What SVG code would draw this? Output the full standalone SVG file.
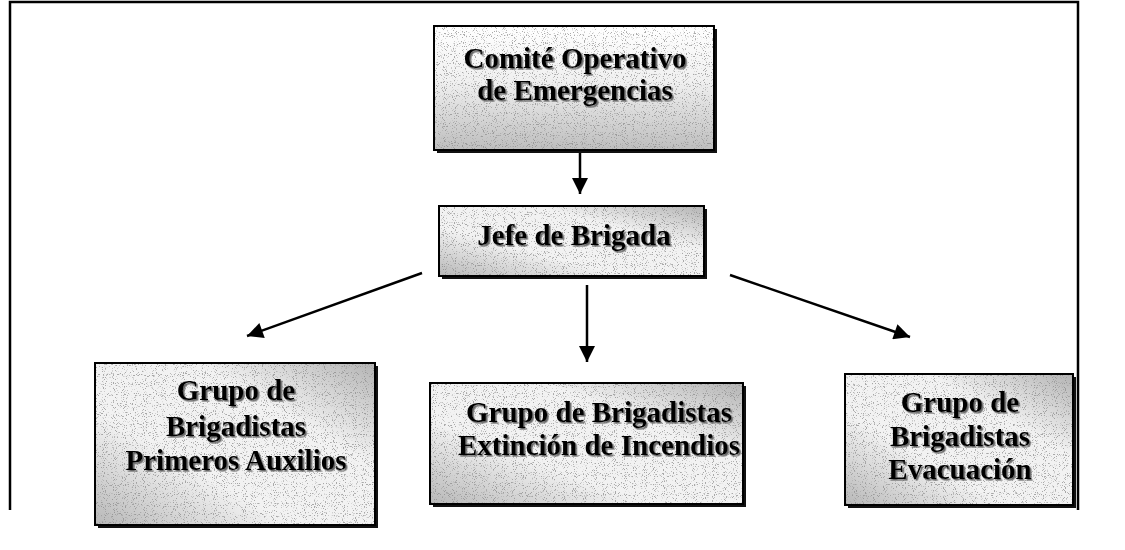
<svg xmlns="http://www.w3.org/2000/svg" width="1125" height="550" viewBox="0 0 1125 550">
<defs>
<style>
.frame{stroke:#000;stroke-width:2.5;fill:none}
.shadow{fill:#111}
.box{stroke:#000;stroke-width:2}
.grain{fill:#fff;filter:url(#grain)}
.lbl{font-family:"Liberation Serif","Times New Roman",serif;font-weight:bold;font-size:29px;fill:#000;text-anchor:middle;filter:url(#tshadow)}
.conn{stroke:#000;stroke-width:2.5;fill:none;marker-end:url(#ah)}
</style>
<linearGradient id="gDiag" x1="0" y1="1" x2="1" y2="0">
<stop offset="0" stop-color="#b8b8b8"/>
<stop offset="0.35" stop-color="#f2f2f2"/>
<stop offset="0.68" stop-color="#f2f2f2"/>
<stop offset="1" stop-color="#b4b4b4"/>
</linearGradient>
<linearGradient id="gVert" x1="0" y1="0" x2="0" y2="1">
<stop offset="0" stop-color="#ffffff"/>
<stop offset="0.45" stop-color="#f0f0f0"/>
<stop offset="1" stop-color="#bebebe"/>
</linearGradient>
<filter id="grain" x="0" y="0" width="100%" height="100%">
<feTurbulence type="fractalNoise" baseFrequency="0.9" numOctaves="1" seed="7" result="n"/>
<feColorMatrix in="n" type="matrix" values="0 0 0 0 0.25  0 0 0 0 0.25  0 0 0 0 0.25  10 0 0 0 -5.8" result="d"/>
<feComposite in="d" in2="SourceAlpha" operator="in"/>
</filter>
<filter id="tshadow" x="-5%" y="-20%" width="110%" height="140%">
<feDropShadow dx="1.6" dy="1.6" stdDeviation="0.3" flood-color="#666" flood-opacity="1"/>
</filter>
<marker id="ah" viewBox="0 0 10 10" refX="10" refY="5" markerUnits="userSpaceOnUse" markerWidth="17" markerHeight="16" orient="auto">
<path d="M0,0 L10,5 L0,10 z" fill="#000"/>
</marker>
</defs>
<rect width="1125" height="550" fill="#fff"/>
<g id="frame">
<path class="frame" d="M10,510 L10,2 L1078,2 L1078,510"/>
</g>
<g id="connectors">
<line class="conn" x1="580" y1="151" x2="580" y2="194"/>
<line class="conn" x1="587" y1="285" x2="587" y2="362"/>
<line class="conn" x1="422" y1="273" x2="247" y2="336"/>
<line class="conn" x1="730" y1="275" x2="910" y2="337"/>
</g>
<g id="comite">
<rect class="shadow" x="437" y="29" width="280" height="124"/>
<rect class="box" x="434" y="26" width="280" height="124" fill="url(#gVert)"/>
<rect class="grain" x="435" y="27" width="278" height="122" opacity="0.7"/>
<text class="lbl" x="575" y="68">Comité Operativo</text>
<text class="lbl" x="575" y="100">de Emergencias</text>
</g>
<g id="jefe">
<rect class="shadow" x="442" y="209" width="265" height="70"/>
<rect class="box" x="439" y="206" width="265" height="70" fill="url(#gDiag)"/>
<rect class="grain" x="440" y="207" width="263" height="68" opacity="0.7"/>
<text class="lbl" x="574" y="245">Jefe de Brigada</text>
</g>
<g id="primeros">
<rect class="shadow" x="98" y="366" width="280" height="162"/>
<rect class="box" x="95" y="363" width="280" height="162" fill="url(#gDiag)"/>
<rect class="grain" x="96" y="364" width="278" height="160" opacity="0.7"/>
<text class="lbl" x="236" y="400">Grupo de</text>
<text class="lbl" x="236" y="436">Brigadistas</text>
<text class="lbl" x="236" y="470">Primeros Auxilios</text>
</g>
<g id="extincion">
<rect class="shadow" x="433" y="386" width="313" height="121"/>
<rect class="box" x="430" y="383" width="313" height="121" fill="url(#gDiag)"/>
<rect class="grain" x="431" y="384" width="311" height="119" opacity="0.7"/>
<text class="lbl" x="599" y="422">Grupo de Brigadistas</text>
<text class="lbl" x="599" y="455">Extinción de Incendios</text>
</g>
<g id="evacuacion">
<rect class="shadow" x="848" y="377" width="228" height="131"/>
<rect class="box" x="845" y="374" width="228" height="131" fill="url(#gDiag)"/>
<rect class="grain" x="846" y="375" width="226" height="129" opacity="0.7"/>
<text class="lbl" x="960" y="412">Grupo de</text>
<text class="lbl" x="960" y="446">Brigadistas</text>
<text class="lbl" x="960" y="479">Evacuación</text>
</g>
</svg>
